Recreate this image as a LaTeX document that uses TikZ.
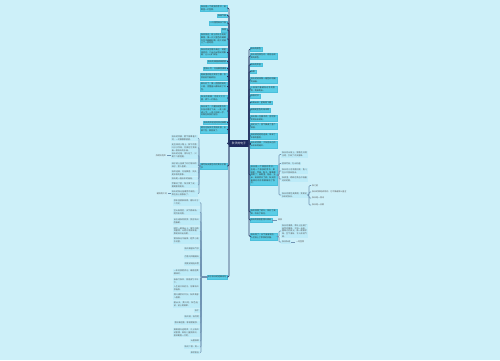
\documentclass[tikz,border=0pt]{standalone}
\usepackage{fontspec}
\newfontfamily\cjk{Noto Sans CJK SC}
\XeTeXlinebreaklocale "zh"
\XeTeXlinebreakskip = 0pt plus 0.5pt
\definecolor{bgcol}{HTML}{CDF0F9}
\definecolor{rootcol}{HTML}{1E2A5E}
\definecolor{mainfill}{HTML}{5ACDE6}
\definecolor{mainline}{HTML}{4BBFDB}
\definecolor{subfill}{HTML}{BDEBF8}
\definecolor{trunkcol}{HTML}{2B3A67}
\definecolor{twigcol}{HTML}{6F93B3}
\tikzset{
  root/.style={fill=rootcol, text=white, inner sep=1.5pt, font=\cjk\fontsize{1.6}{2}\selectfont},
  mainbox/.style={fill=mainfill, draw=mainline, line width=0.1pt, inner sep=0.45pt, align=left,
    text=black!80, font=\cjk\fontsize{1.15}{1.55}\selectfont},
  subbox/.style={fill=subfill, inner sep=0.45pt, align=left,
    text=black!65, font=\cjk\fontsize{1.15}{1.55}\selectfont},
  leaf/.style={inner sep=0.45pt, align=left, text=black!65, font=\cjk\fontsize{1.15}{1.55}\selectfont},
  wide/.style={text width=0.5cm},
  trunk/.style={draw=trunkcol, line width=0.4pt, rounded corners=0.6pt},
  twig/.style={draw=twigcol, line width=0.3pt, rounded corners=0.5pt}
}
\begin{document}
\begin{tikzpicture}[x=0.02cm, y=-0.02cm]
%%%%% START %%%%%
\fill[bgcol] (0,0) rectangle (500,360);
\useasboundingbox (0,0) rectangle (500,360);

\node[root] (root) at (239,143.5) {秋天的句子};
\coordinate (lt) at (229,143.5);
\coordinate (rt) at (249,143.5);

% left, upper column
\node[mainbox, wide, anchor=east] (u1) at (227,8) {秋天是一个收获的季节，田野里一片金黄。};
\node[mainbox, anchor=east] (u2) at (227,15.5) {秋高气爽};
\node[mainbox, anchor=east] (u3) at (227,23) {一叶落而知天下秋};
\node[mainbox, anchor=east] (u4) at (227,30) {秋意};
\node[mainbox, wide, anchor=east] (u5) at (227,39) {秋风吹过，树上的叶子纷纷飘落，像一只只金色的蝴蝶在空中翩翩起舞，给大地铺上了一层地毯。};
\node[mainbox, wide, anchor=east] (u6) at (227,52.5) {秋天的天空格外高远，湛蓝湛蓝的，几朵白云悠闲地飘着，让人心旷神怡。};
\node[mainbox, anchor=east] (u7) at (227,61.5) {秋天的果园硕果累累};
\node[mainbox, anchor=east] (u8) at (227,68.5) {金秋十月，丹桂飘香满城};
\node[mainbox, wide, anchor=east] (u9) at (227,76.5) {稻田里的稻子笑弯了腰，农民伯伯忙着收割。};
\node[mainbox, wide, anchor=east] (u10) at (227,86.5) {枫叶红了，像一团团燃烧的火焰，把整座山都染成了红色。};
\node[mainbox, wide, anchor=east] (u11) at (227,98) {秋天的夜晚，月亮又大又圆，洒下一片银光。};
\node[mainbox, wide, anchor=east] (u12) at (227,111) {秋天来了，大雁排成整齐的队伍向南方飞去，一会儿排成人字，一会儿排成一字，好像在和我们告别。};
\node[mainbox, anchor=east] (u13) at (227,122.5) {秋天的风轻轻地吹过田野};
\node[mainbox, wide, anchor=east] (u14) at (227,129.5) {菊花在秋风中竞相开放，五颜六色，美丽极了。};
\foreach \n in {u1,u2,u3,u4,u5,u6,u7,u8,u9,u10,u11,u12,u13,u14}
  \draw[trunk] (root.west) -- (lt) |- (\n.east);

% left, middle branch
\node[mainbox, wide, anchor=east] (b) at (227,166) {描写秋天景色的优美句子摘抄};
\draw[trunk] (root.west) -- (lt) |- (b.east);
\coordinate (bt) at (199,166);
\node[subbox, wide, anchor=east] (b1) at (198,138) {秋天的早晨，雾气笼罩着大地，一切都朦朦胧胧。};
\node[subbox, wide, anchor=east] (b2) at (198,147.5) {走在林间小路上，脚下的落叶沙沙作响，仿佛在为我演奏一首秋天的乐曲。};
\node[subbox, wide, anchor=east] (b3) at (198,155.5) {秋天的池塘，荷叶枯了，只剩下几根莲蓬。};
\node[subbox, wide, anchor=east] (b4) at (198,165) {柿子树上挂满了红灯笼似的柿子，惹人喜爱。};
\node[subbox, wide, anchor=east] (b5) at (198,173) {秋风送爽，丹桂飘香，处处是丰收的景象。};
\node[subbox, wide, anchor=east] (b6) at (198,178.5) {秋天是一幅五彩的画卷。};
\node[subbox, wide, anchor=east] (b7) at (198,185) {苹果红了脸，梨子黄了皮，葡萄紫得发亮。};
\node[subbox, wide, anchor=east] (b8) at (198,193.5) {秋天的阳光温暖而不燥热，照在身上舒服极了。};
\foreach \n in {b1,b2,b3,b4,b5,b6,b7,b8}
  \draw[twig] (b.west) -- (bt) |- (\n.east);
\node[leaf, anchor=east] (b3a) at (167,155.5) {残荷听雨声};
\node[leaf, anchor=east] (b8a) at (168,193.5) {暖阳照大地};
\draw[twig] (b3.west) -- (b3a.east);
\draw[twig] (b8.west) -- (b8a.east);

% left, lower branch
\node[mainbox, anchor=east] (c) at (227,277) {关于秋天的经典诗句};
\draw[trunk] (root.west) -- (lt) |- (c.east);
\coordinate (ct) at (201,277);
\node[subbox, wide, anchor=east] (c1) at (200,202.5) {停车坐爱枫林晚，霜叶红于二月花。};
\node[subbox, wide, anchor=east] (c2) at (200,212) {空山新雨后，天气晚来秋。明月松间照。};
\node[subbox, wide, anchor=east] (c3) at (200,221.5) {自古逢秋悲寂寥，我言秋日胜春朝。};
\node[subbox, wide, anchor=east] (c4) at (200,231) {晴空一鹤排云上，便引诗情到碧霄。山明水净夜来霜，数树深红出浅黄。};
\node[subbox, wide, anchor=east] (c5) at (200,240.5) {银烛秋光冷画屏，轻罗小扇扑流萤。};
\node[subbox, anchor=east] (c6) at (200,249) {秋风萧瑟天气凉};
\node[subbox, anchor=east] (c7) at (200,257) {月落乌啼霜满天};
\node[subbox, anchor=east] (c8) at (200,264) {洞庭波涌连天雪};
\node[subbox, wide, anchor=east] (c9) at (200,272.5) {一年好景君须记，最是橙黄橘绿时。};
\node[subbox, wide, anchor=east] (c10) at (200,281.5) {袅袅兮秋风，洞庭波兮木叶下。};
\node[subbox, wide, anchor=east] (c11) at (200,288.5) {人生若只如初见，何事秋风悲画扇。};
\node[subbox, wide, anchor=east] (c12) at (200,296.5) {落叶满阶红不扫，秋声萧瑟入梧桐。};
\node[subbox, wide, anchor=east] (c13) at (200,304.5) {碧云天，黄叶地，秋色连波，波上寒烟翠。};
\node[subbox, anchor=east] (c14) at (200,311) {秋夕};
\node[subbox, anchor=east] (c15) at (200,317) {秋风清，秋月明};
\node[subbox, anchor=east] (c16) at (200,323) {落叶聚还散，寒鸦栖复惊。};
\node[subbox, wide, anchor=east] (c17) at (200,332.5) {萧萧梧叶送寒声，江上秋风动客情。知有儿童挑促织，夜深篱落一灯明。};
\node[subbox, anchor=east] (c18) at (200,341) {山居秋暝};
\node[subbox, anchor=east] (c19) at (200,347) {秋词二首·其一};
\node[subbox, anchor=east] (c20) at (200,352.5) {枫桥夜泊};
\foreach \n in {c1,c2,c3,c4,c5,c6,c7,c8,c9,c10,c11,c12,c13,c14,c15,c16,c17,c18,c19,c20}
  \draw[twig] (c.west) -- (ct) |- (\n.east);

% right column
\node[mainbox, anchor=west] (r1) at (250,49) {秋天的颜色};
\node[mainbox, wide, anchor=west] (r2) at (250,56) {秋天是金黄色的，是稻谷成熟的颜色。};
\node[mainbox, anchor=west] (r3) at (250,64.5) {秋天的声音};
\node[mainbox, anchor=west] (r4) at (250,71.5) {秋景};
\node[mainbox, wide, anchor=west] (r5) at (250,80) {秋天的树林像一幅色彩斑斓的油画。};
\node[mainbox, wide, anchor=west] (r6) at (250,89) {小松鼠忙着储存过冬的食物，跑来跑去。};
\node[mainbox, anchor=west] (r7) at (250,96) {秋收时节};
\node[mainbox, anchor=west] (r8) at (250,102.5) {天高云淡，望断南飞雁};
\node[mainbox, anchor=west] (r9) at (250,110) {田野是金色的海洋啊};
\node[mainbox, wide, anchor=west] (r10) at (250,118) {秋天像一位魔术师，把世界变得五彩缤纷。};
\node[mainbox, wide, anchor=west] (r11) at (250,126) {桂花开了，香气飘满了整个校园。};
\node[mainbox, wide, anchor=west] (r12) at (250,136) {秋姑娘轻轻地走来，带来了丰收的喜悦。};
\node[mainbox, wide, anchor=west] (r13) at (250,144.5) {秋天的傍晚，夕阳把天边的云彩染得通红。};
\node[mainbox, wide, anchor=west] (r14) at (250,175) {秋天是一个美丽的季节，也是一个收获的季节。果园里，苹果、梨子、葡萄都成熟了；田野里，稻谷、玉米、高粱笑开了颜。秋天把最美好的东西都献给了我们。};
\node[mainbox, wide, anchor=west] (r15) at (250,212) {秋风吹黄了树叶，吹红了高粱，吹白了棉花。};
\node[mainbox, anchor=west] (r16) at (250,220) {秋天的校园里落叶缤纷};
\node[mainbox, wide, anchor=west] (r17) at (250,236.5) {秋天到了，天气渐渐转凉，人们穿上了厚厚的衣服。};
\foreach \n in {r1,r2,r3,r4,r5,r6,r7,r8,r9,r10,r11,r12,r13,r14,r15,r16,r17}
  \draw[trunk] (root.east) -- (rt) |- (\n.west);

% right, children of r14
\coordinate (r14t) at (279,175);
\node[subbox, wide, anchor=west] (r14a) at (281,154.5) {秋天的山坡上，野菊花开得正艳，引来了许多蜜蜂。};
\node[subbox, anchor=west] (r14b) at (281,163.5) {层林尽染，万山红遍};
\node[subbox, wide, anchor=west] (r14c) at (281,171) {秋天的小河清澈见底，鱼儿在水中游来游去。};
\node[subbox, wide, anchor=west] (r14d) at (281,179) {秋夜里，蟋蟀在草丛中唱着动听的歌。};
\node[subbox, wide, anchor=west] (r14e) at (281,195) {秋天的景色真美啊，我爱这多彩的秋天。};
\foreach \n in {r14a,r14b,r14c,r14d,r14e}
  \draw[twig] (r14.east) -- (r14t) |- (\n.west);
\coordinate (r14et) at (309,195);
\node[leaf, anchor=west] (e1) at (311,185.5) {秋之韵};
\node[leaf, anchor=west] (e2) at (311,192) {秋天的美是成熟的，它不像春那么羞涩};
\node[leaf, anchor=west] (e3) at (311,198) {秋天是一首诗};
\node[leaf, anchor=west] (e4) at (311,205) {秋天是一支歌};
\foreach \n in {e1,e2,e3,e4}
  \draw[twig] (r14e.east) -- (r14et) |- (\n.west);

% right, r16 and r17
\node[leaf, anchor=west] (r16a) at (277,220) {美景};
\draw[twig] (r16.east) -- (r16a.west);
\coordinate (r17t) at (279,236.5);
\node[subbox, wide, anchor=west] (r17a) at (281,231) {秋天的清晨，草叶上挂满了晶莹的露珠，太阳一出来，露珠闪闪发光，像一颗颗珍珠。空气清新，令人神清气爽。};
\node[subbox, anchor=west] (r17b) at (281,242) {秋日私语};
\foreach \n in {r17a,r17b}
  \draw[twig] (r17.east) -- (r17t) |- (\n.west);
\node[leaf, anchor=west] (r17c) at (295,242) {一地金黄};
\draw[twig] (r17b.east) -- (r17c.west);
%%%%% END %%%%%
\end{tikzpicture}
\end{document}
